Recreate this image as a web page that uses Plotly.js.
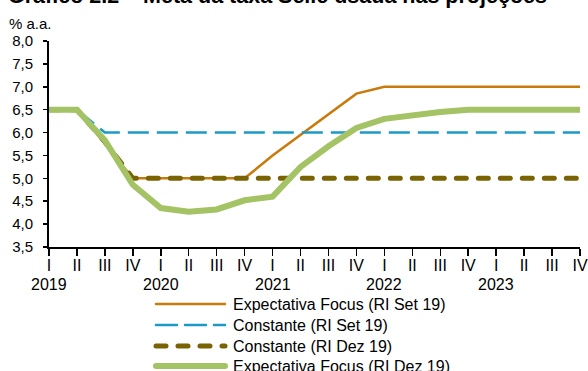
<!DOCTYPE html>
<html>
<head>
<meta charset="utf-8">
<script src="https://cdn.plot.ly/plotly-3.0.1.min.js"></script>
<style>html,body{margin:0;padding:0;background:#fff;}#chart{width:588px;height:371px;}</style>
</head>
<body>
<div id="chart"></div>
<script>
// ---- data ----
const quarterLabels = ['I','II','III','IV','I','II','III','IV','I','II','III','IV','I','II','III','IV','I','II','III','IV'];
const years = ['2019','2020','2021','2022','2023'];
const yearStartIndex = [0, 4, 8, 12, 16];
const focusSet19 = [6.5,6.5,5.75,5.0,5.0,5.0,5.0,5.0,5.5,5.95,6.4,6.85,7.0,7.0,7.0,7.0,7.0,7.0,7.0,7.0];
const constSet19 = [6.5,6.5,6.0,6.0,6.0,6.0,6.0,6.0,6.0,6.0,6.0,6.0,6.0,6.0,6.0,6.0,6.0,6.0,6.0,6.0];
const constDez19 = [6.5,6.5,5.8,5.0,5.0,5.0,5.0,5.0,5.0,5.0,5.0,5.0,5.0,5.0,5.0,5.0,5.0,5.0,5.0,5.0];
const focusDez19 = [6.5,6.5,5.83,4.86,4.35,4.27,4.32,4.52,4.6,5.25,5.7,6.1,6.3,6.38,6.45,6.5,6.5,6.5,6.5,6.5];
const seriesNames = ['Expectativa Focus (RI Set 19)','Constante (RI Set 19)','Constante (RI Dez 19)','Expectativa Focus (RI Dez 19)'];
const titleText = 'Gráfico 2.2 – Meta da taxa Selic usada nas projeções';
const unitText = '% a.a.';

// ---- styles ----
const FONT = '"Liberation Sans", Arial, sans-serif';
const styles = [
  {color:'#C97A0A', width:2.5, dash:'solid'},
  {color:'#1C9AC6', width:2.5, dash:'21px,8px'},
  {color:'#7A6302', width:5, dash:'10px,12px'},
  {color:'#A3C364', width:6, dash:'solid'}
];
const seriesData = [focusSet19, constSet19, constDez19, focusDez19];
const xIdx = quarterLabels.map((_, i) => i);

// plot area geometry (px)
const W = 588, H = 371;
const M = {l:49, r:8, t:41, b:124};
const PW = W - M.l - M.r, PH = H - M.t - M.b;
const px2x = x => (x - M.l) / PW;
const px2y = y => (H - M.b - y) / PH;

const traces = seriesData.map((d, i) => ({
  x: xIdx, y: d, type:'scatter', mode:'lines', name: seriesNames[i],
  line: {color: styles[i].color, width: styles[i].width, dash: styles[i].dash},
  showlegend:false, hoverinfo:'skip'
}));

const annotations = [];
const shapes = [];
years.forEach((yr, i) => {
  annotations.push({x: yearStartIndex[i], xref:'x', y: px2y(284), yref:'paper', text: yr,
    showarrow:false, xanchor:'center', yanchor:'middle', font:{family:FONT, size:16, color:'#000'}});
});
annotations.push({x: px2x(7), xref:'paper', y: px2y(23), yref:'paper', text: unitText,
  showarrow:false, xanchor:'left', yanchor:'middle', font:{family:FONT, size:15, color:'#000'}});
annotations.push({x: px2x(6), xref:'paper', y: px2y(-4.5), yref:'paper', text: '<b>' + titleText + '</b>',
  showarrow:false, xanchor:'left', yanchor:'middle', font:{family:FONT, size:21.5, color:'#000'}});

const legRows = [304, 325, 346, 366];
seriesNames.forEach((nm, i) => {
  shapes.push({type:'line', xref:'paper', yref:'paper', x0: px2x(156), x1: px2x(225), y0: px2y(legRows[i]), y1: px2y(legRows[i]),
    line:{color: styles[i].color, width: styles[i].width, dash: styles[i].dash}});
  annotations.push({x: px2x(231), xref:'paper', y: px2y(legRows[i]), yref:'paper', text: nm,
    showarrow:false, xanchor:'left', yanchor:'middle', font:{family:FONT, size:16, color:'#000'}});
});

const layout = {
  width: W, height: H,
  margin: M,
  paper_bgcolor:'#ffffff', plot_bgcolor:'#ffffff',
  separators: ',.',
  showlegend:false,
  font:{family:FONT, size:15, color:'#000'},
  xaxis:{range:[0,19], tickmode:'array', tickvals: xIdx, ticktext: quarterLabels,
    showline:true, linecolor:'#000', linewidth:2, ticks:'outside', ticklen:7, tickwidth:1.5, tickcolor:'#000',
    showgrid:false, zeroline:false, tickangle:0, ticklabelstandoff:-4, tickfont:{family:FONT, size:16, color:'#000'}, fixedrange:true},
  yaxis:{range:[3.5,8], dtick:0.5, tick0:3.5, tickformat:'.1f',
    showline:true, linecolor:'#000', linewidth:2, ticks:'outside', ticklen:4, tickwidth:1.5, tickcolor:'#000',
    showgrid:false, zeroline:false, ticklabelstandoff:7, tickfont:{family:FONT, size:15, color:'#000'}, fixedrange:true},
  annotations, shapes
};

Plotly.newPlot('chart', traces, layout, {displayModeBar:false, staticPlot:true}).then(() => {
  const tr = document.querySelectorAll('.scatterlayer .trace');
  if (tr[2]) tr[2].querySelectorAll('path.js-line').forEach(p => p.style.strokeLinecap = 'round');
  if (tr[3]) tr[3].querySelectorAll('path.js-line').forEach(p => p.style.strokeLinecap = 'round');
  document.querySelectorAll('.layer-above path, .shapelayer path').forEach(p => p.style.strokeLinecap = 'round');
});
</script>
</body>
</html>
